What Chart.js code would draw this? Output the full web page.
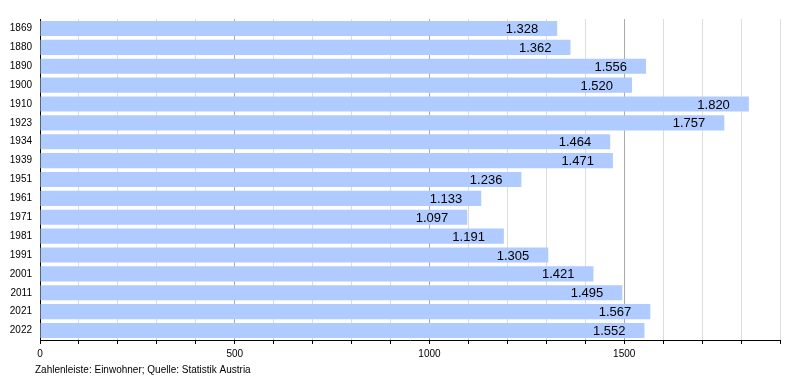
<!DOCTYPE html>
<html>
<head>
<meta charset="utf-8">
<script src="https://cdn.jsdelivr.net/npm/chart.js@4"></script>
<style>
  html, body { margin: 0; padding: 0; background: #fff; }
  #wrap { width: 800px; height: 380px; }
</style>
</head>
<body>
<div id="wrap"><canvas id="myChart" width="800" height="380"></canvas></div>
<script>
const years = ['1869', '1880', '1890', '1900', '1910', '1923', '1934', '1939', '1951',
    '1961', '1971', '1981', '1991', '2001', '2011', '2021', '2022'];
const population = [1328, 1362, 1556, 1520, 1820, 1757, 1464, 1471, 1236,
    1133, 1097, 1191, 1305, 1421, 1495, 1567, 1552];
const xTickLabels = [0, 500, 1000, 1500];
const footerText = 'Zahlenleiste: Einwohner; Quelle: Statistik Austria';

const fontFamily = '"Liberation Sans", Arial, sans-serif';

function formatDe(n) {
    return String(n).replace(/\B(?=(\d{3})+(?!\d))/g, '.');
}

// writes the numbers inside the bar ends and the source line under the axis
const barLabels = {
    id: 'barLabels',
    afterDatasetsDraw(chart) {
        const ctx = chart.ctx;
        const meta = chart.getDatasetMeta(0);
        ctx.save();
        ctx.font = '13px ' + fontFamily;
        ctx.fillStyle = '#000';
        ctx.textAlign = 'right';
        ctx.textBaseline = 'middle';
        meta.data.forEach(function (bar, i) {
            ctx.fillText(formatDe(population[i]), bar.x - 19, bar.y + 1);
        });
        ctx.font = '10px ' + fontFamily;
        ctx.textAlign = 'left';
        ctx.fillText(footerText, 35, 370);
        ctx.restore();
    }
};

new Chart('myChart', {
    type: 'bar',
    data: {
        labels: years,
        datasets: [{
            data: population,
            backgroundColor: '#b0cbff',
            barPercentage: 0.8,
            categoryPercentage: 1.0
        }]
    },
    options: {
        indexAxis: 'y',
        responsive: false,
        animation: false,
        layout: { padding: { top: 19, right: 20, left: 0, bottom: 0 } },
        plugins: {
            legend: { display: false },
            tooltip: { enabled: false }
        },
        scales: {
            x: {
                min: 0,
                max: 1900,
                afterFit: function (scale) { scale.height = 40; },
                border: { display: true, color: '#000', width: 1 },
                grid: {
                    color: function (c) {
                        if (c.tick && c.tick.value === 0) return 'rgba(0,0,0,0)';
                        return c.tick && c.tick.value % 500 === 0 ? '#aaaaaa' : '#dddddd';
                    },
                    tickColor: '#000',
                    tickLength: 4,
                    drawTicks: true
                },
                ticks: {
                    stepSize: 100,
                    autoSkip: false,
                    maxRotation: 0,
                    padding: 4,
                    color: '#000',
                    font: { family: fontFamily, size: 10 },
                    callback: function (v) {
                        return xTickLabels.includes(v) ? String(v) : '';
                    }
                }
            },
            y: {
                afterFit: function (scale) { scale.width = 40; },
                border: { display: true, color: '#000', width: 1 },
                grid: { display: false, drawTicks: false },
                ticks: {
                    padding: 8,
                    color: '#000',
                    font: { family: fontFamily, size: 10 }
                }
            }
        }
    },
    plugins: [barLabels]
});
</script>
</body>
</html>
